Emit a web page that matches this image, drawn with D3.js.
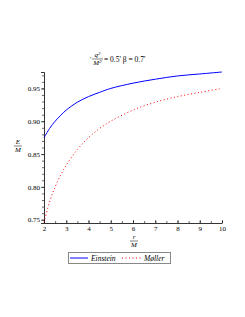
<!DOCTYPE html>
<html lang="en">
<head>
<meta charset="UTF-8">
<title>Energy plot</title>
<style>
body { margin: 0; background: #fff; }
text { font-family: "Liberation Serif", "DejaVu Serif", serif; fill: #000; }
.tick text { font-size: 7px; }
</style>
</head>
<body>
<script src="https://d3js.org/d3.v7.min.js"></script>
<script>
// values (r/M against E/M)
var rValues  = [2, 2.25, 2.5, 2.75, 3, 3.5, 4, 4.5, 5, 6, 7, 8, 9, 10];
var einstein = [0.875, 0.889, 0.900, 0.909, 0.917, 0.929, 0.9375, 0.944, 0.950, 0.958, 0.964, 0.969, 0.972, 0.975];
var moller   = [0.746, 0.777, 0.800, 0.818, 0.833, 0.857, 0.875, 0.889, 0.900, 0.917, 0.929, 0.9375, 0.944, 0.950];
var xTicks = [2, 3, 4, 5, 6, 7, 8, 9, 10];
var yTicks = [0.75, 0.80, 0.85, 0.90, 0.95];

var width = 245, height = 317;

var svg = d3.select("body").append("svg")
    .attr("width", width)
    .attr("height", height);

var x = d3.scaleLinear().domain([2, 10]).range([44, 222]);
var y = d3.scaleLinear().domain([0.745, 0.975]).range([223, 72]);

// axes: minor ticks first, then major ones with labels
var xMinor = d3.range(2, 10.01, 0.5);
svg.append("g")
    .attr("transform", "translate(0," + y(0.745) + ")")
    .call(d3.axisTop(x).tickValues(xMinor).tickSize(2).tickFormat(""))
    .call(function(g) { g.select(".domain").remove(); });

svg.append("g")
    .attr("transform", "translate(0," + y(0.745) + ")")
    .call(d3.axisBottom(x).tickValues(xTicks).tickSize(0).tickPadding(3).tickFormat(d3.format("d")))
    .call(function(g) { g.select(".domain").attr("stroke", "#000").attr("stroke-width", 0.8); });

svg.append("g")
    .attr("transform", "translate(0," + y(0.745) + ")")
    .call(d3.axisTop(x).tickValues(xTicks).tickSize(3).tickFormat(""))
    .call(function(g) { g.select(".domain").remove(); });

var yMinor = d3.range(0.75, 0.9751, 0.01);
svg.append("g")
    .attr("transform", "translate(" + x(2) + ",0)")
    .call(d3.axisLeft(y).tickValues(yMinor).tickSize(2).tickFormat(""))
    .call(function(g) { g.select(".domain").remove(); });

svg.append("g")
    .attr("transform", "translate(" + x(2) + ",0)")
    .call(d3.axisLeft(y).tickValues(yTicks).tickSize(3).tickPadding(1).tickFormat(d3.format(".2f")))
    .call(function(g) { g.select(".domain").attr("stroke", "#000").attr("stroke-width", 0.8); });

svg.selectAll(".tick line").attr("stroke", "#000").attr("stroke-width", 0.6);

// curves
var line = d3.line()
    .curve(d3.curveCatmullRom.alpha(0.5))
    .x(function(d) { return x(d[0]); })
    .y(function(d) { return y(d[1]); });

svg.append("path")
    .datum(d3.zip(rValues, einstein))
    .attr("fill", "none")
    .attr("stroke", "#0000ff")
    .attr("stroke-width", 1)
    .attr("d", line);

svg.append("path")
    .datum(d3.zip(rValues, moller))
    .attr("fill", "none")
    .attr("stroke", "#ff0000")
    .attr("stroke-width", 1)
    .attr("stroke-dasharray", "1,2.5")
    .attr("d", line);

// fraction helper: num over den with a bar
function fraction(g, cx, cy, num, den, w) {
  g.append("text").attr("x", cx).attr("y", cy - 2).attr("text-anchor", "middle")
    .attr("font-size", 7).attr("font-style", "italic").html(num);
  g.append("line").attr("x1", cx - w / 2).attr("x2", cx + w / 2)
    .attr("y1", cy).attr("y2", cy).attr("stroke", "#000").attr("stroke-width", 0.5);
  g.append("text").attr("x", cx).attr("y", cy + 6).attr("text-anchor", "middle")
    .attr("font-size", 7).attr("font-style", "italic").html(den);
}

// title
var title = svg.append("g");
title.append("text").attr("x", 90).attr("y", 61).attr("font-size", 7).text("'");
fraction(title, 97.5, 59, "q<tspan dy='-2' font-size='5'>2</tspan>", "M<tspan dy='-2' font-size='5'>2</tspan>", 11);
title.append("text").attr("x", 104).attr("y", 62).attr("font-size", 7.5).text("= 0.5' β = 0.7'");

// axis labels
fraction(svg.append("g"), 18, 146, "E", "M", 8);
fraction(svg.append("g"), 134, 241, "r", "M", 8);

// legend
var legend = svg.append("g");
legend.append("rect").attr("x", 68.5).attr("y", 252.5).attr("width", 102).attr("height", 11)
  .attr("fill", "#fff").attr("stroke", "#888").attr("stroke-width", 1);
legend.append("line").attr("x1", 70).attr("x2", 88).attr("y1", 258).attr("y2", 258)
  .attr("stroke", "#0000ff").attr("stroke-width", 1);
legend.append("text").attr("x", 91).attr("y", 260.5).attr("font-size", 7.5)
  .attr("font-style", "italic").text("Einstein");
legend.append("line").attr("x1", 122).attr("x2", 141).attr("y1", 258).attr("y2", 258)
  .attr("stroke", "#ff0000").attr("stroke-width", 1).attr("stroke-dasharray", "1,2.5");
legend.append("text").attr("x", 144).attr("y", 260.5).attr("font-size", 7.5)
  .attr("font-style", "italic").text("Møller");
</script>
</body>
</html>
